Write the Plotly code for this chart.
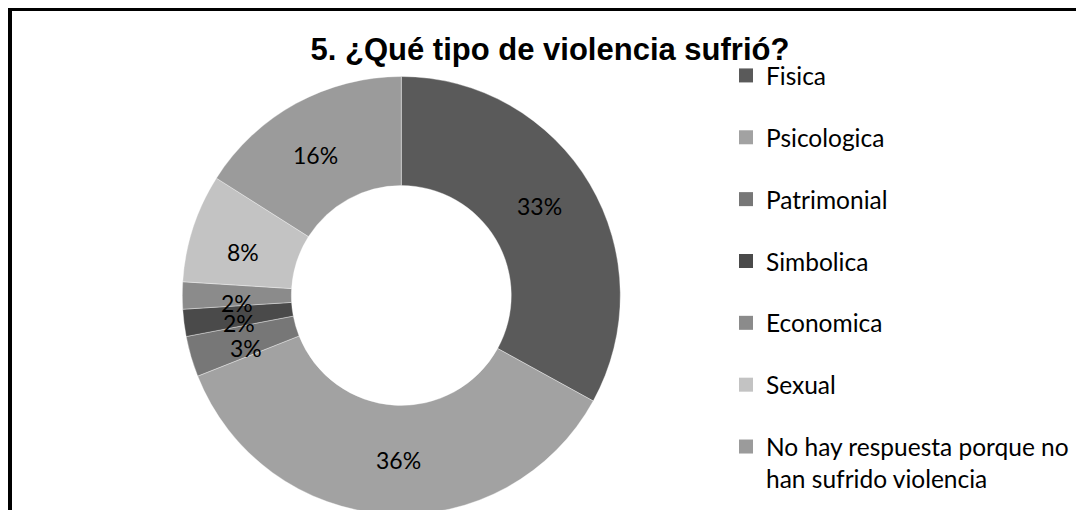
import numpy as np
import plotly.graph_objects as go

labels = ["Fisica", "Psicologica", "Patrimonial", "Simbolica", "Economica", "Sexual",
          "No hay respuesta porque no<br>han sufrido violencia"]
values = [33, 36, 3, 2, 2, 8, 16]
colors = ["#5a5a5a", "#a2a2a2", "#777777", "#4a4a4a", "#8b8b8b", "#c3c3c3", "#9b9b9b"]
title_text = "5. ¿Qué tipo de violencia sufrió?"

W, H = 1084, 510
OFF = 8  # page body margin offset
cx, cy, R = 401.3 - OFF, 295.5 - OFF, 219
hole = 0.502
label_bias = np.deg2rad(-2.5)

fig = go.Figure()
fig.add_trace(go.Pie(
    labels=labels, values=values, sort=False, direction="clockwise", rotation=0,
    hole=hole,
    marker=dict(colors=colors, line=dict(width=0.8, color="rgba(255,255,255,0.45)")),
    textinfo="none",
    domain=dict(x=[(cx - R) / W, (cx + R) / W], y=[(H - cy - R) / H, (H - cy + R) / H]),
    showlegend=False, hoverinfo="label+percent",
))

# percentage labels at mid-angle, mid-ring (computed from the data)
vals = np.array(values, dtype=float)
frac = vals / vals.sum()
ends = np.cumsum(frac)
mids = (ends - frac / 2) * 2 * np.pi + label_bias
rl = R * (1 + hole) / 2
annotations = []
for f, a in zip(frac, mids):
    px = cx + rl * np.sin(a)
    py = cy - rl * np.cos(a)
    annotations.append(dict(
        x=px / W, y=1 - py / H, xref="paper", yref="paper",
        text=f"{f * 100:.0f}%", showarrow=False, xanchor="center", yanchor="middle",
        font=dict(family="Lato", size=23, color="#000000"),
    ))

for i, (lab, col) in enumerate(zip(labels, colors)):
    fig.add_trace(go.Scatter(
        x=[None], y=[None], mode="markers", name=lab, legendgroup=f"g{i}",
        marker=dict(symbol="square", size=14, color=col),
    ))

fig.update_layout(
    width=W, height=H,
    margin=dict(l=0, r=0, t=0, b=0),
    paper_bgcolor="white", plot_bgcolor="white",
    xaxis=dict(visible=False), yaxis=dict(visible=False),
    title=dict(text=f"<b>{title_text}</b>", x=(550 - OFF) / W, xanchor="center",
               y=1 - (49 - OFF) / H, yanchor="middle",
               font=dict(family="Liberation Sans", size=31, color="#000000")),
    legend=dict(x=718 / W, xanchor="left", y=1 - 45 / H, yanchor="top",
                font=dict(family="Lato", size=24.5, color="#000000"),
                tracegroupgap=27, traceorder="grouped", valign="top",
                bgcolor="rgba(0,0,0,0)"),
    annotations=annotations,
    shapes=[
        dict(type="line", xref="paper", yref="paper", x0=0, x1=1.01,
             y0=1 - (9.5 - OFF) / H, y1=1 - (9.5 - OFF) / H, line=dict(color="black", width=3)),
        dict(type="line", xref="paper", yref="paper", x0=(9.5 - OFF) / W, x1=(9.5 - OFF) / W,
             y0=-0.01, y1=1.01, line=dict(color="black", width=5)),
    ],
)
fig.write_html("out.html")
